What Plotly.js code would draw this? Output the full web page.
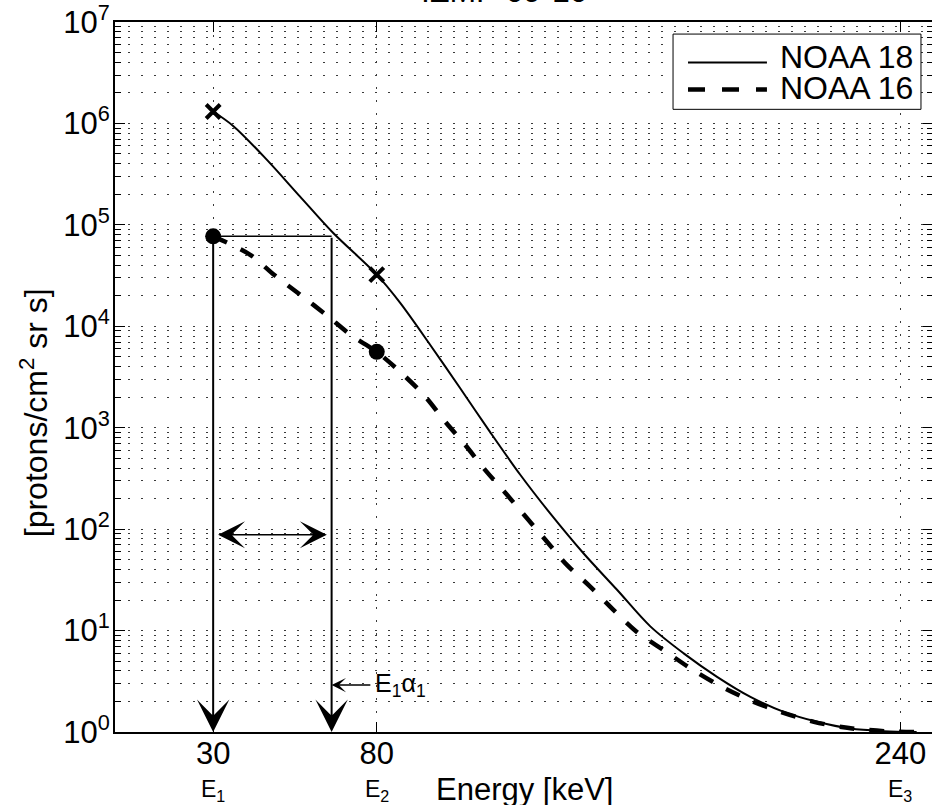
<!DOCTYPE html>
<html>
<head>
<meta charset="utf-8">
<script src="https://cdn.plot.ly/plotly-3.0.1.min.js"></script>
<style>
html, body { margin: 0; padding: 0; overflow: hidden; background: #fff; }
#chart { width: 934px; height: 805px; }
</style>
</head>
<body>
<div id="chart"></div>
<script>
// ---- data ----
const energy18 = [30, 36.2, 46.3, 56.5, 66.7, 80, 87.1, 96.3, 105.5, 114.6, 123.8, 133.0, 143.1, 153.5, 163.6, 173.8, 184, 194.2, 204.4, 214.6, 224.8, 235, 245];
const flux18 = [1.31e6, 9.4e5, 4.42e5, 1.91e5, 8.3e4, 3.23e4, 1.71e4, 6.58e3, 2.45e3, 910, 346, 143, 58.2, 25.1, 11.0, 5.96, 3.50, 2.22, 1.58, 1.26, 1.08, 1.02, 1.0];
const energy16 = [30, 41.2, 48.9, 57.0, 64.5, 72.3, 80, 88.1, 94.8, 100.9, 107, 113.1, 119.8, 133, 138.1, 145.3, 152.4, 159.5, 167.7, 175.9, 184.5, 194, 203.4, 213.6, 223.8, 235, 245];
const flux16 = [7.7e4, 5.1e4, 3.16e4, 2.0e4, 1.30e4, 8.1e3, 5.6e3, 3.33e3, 2.03e3, 1.15e3, 678, 384, 218, 69, 44.4, 27.0, 15.9, 9.7, 6.4, 4.24, 2.90, 2.06, 1.58, 1.26, 1.10, 1.02, 1.0];
const markerEnergy = [30, 80];
const markerFlux18 = [1.31e6, 3.23e4];
const markerFlux16 = [7.7e4, 5.6e3];
const tickEnergy = [30, 80, 240];
const tickEnergyText = ['30', '80', '240'];
const tickEnergyNames = ['E<sub>1</sub>', 'E<sub>2</sub>', 'E<sub>3</sub>'];
const fluxTicks = [1, 10, 100, 1e3, 1e4, 1e5, 1e6, 1e7];
const fluxTickText = ['10<sup>0</sup>', '10<sup>1</sup>', '10<sup>2</sup>', '10<sup>3</sup>', '10<sup>4</sup>', '10<sup>5</sup>', '10<sup>6</sup>', '10<sup>7</sup>'];
const seriesNames = ['NOAA 18', 'NOAA 16'];
const E1 = 30;
const E1alpha1 = 66.2;
const refFlux = 7.7e4;          // NOAA 16 flux at E1
const spanFlux = 88;            // level of the double arrow
const spanLeft = 31.5, spanRight = 65.2;
const labelFlux = 2.9;          // level of the E1·alpha1 pointer
const labelFrom = 78.5;
const chartTitle = 'IZMP 09-10';

// ---- styling ----
const FONT = 'Liberation Sans, Arial, sans-serif';
const minorVals = [];
for (let d = 0; d < 7; d++) for (let k = 2; k <= 9; k++) minorVals.push(k * Math.pow(10, d));
const gridDash = '2px,11px';
const gridColor = '#3a3a3a';

const traces = [
  { x: energy18, y: flux18, mode: 'lines', line: { color: '#000', width: 2, shape: 'spline', smoothing: 0.9 }, showlegend: false, hoverinfo: 'skip' },
  { x: energy16, y: flux16, mode: 'lines', line: { color: '#000', width: 4.5, dash: '15px,15px', shape: 'spline', smoothing: 0.9 }, showlegend: false, hoverinfo: 'skip' },
  { x: markerEnergy, y: markerFlux18, mode: 'markers', marker: { symbol: 'x-thin-open', size: 14, color: '#000', line: { color: '#000', width: 4 } }, showlegend: false, hoverinfo: 'skip' },
  { x: markerEnergy, y: markerFlux16, mode: 'markers', marker: { symbol: 'circle', size: 16, color: '#000' }, showlegend: false, hoverinfo: 'skip' },
  { x: [E1, E1alpha1], y: [refFlux, refFlux], mode: 'lines', line: { color: '#000', width: 1.5 }, showlegend: false, hoverinfo: 'skip' }
];

const L = Math.log10;
const annotations = [
  { x: E1, y: 0, ax: E1, ay: L(refFlux), xref: 'x', yref: 'y', axref: 'x', ayref: 'y', text: '', showarrow: true, arrowhead: 3, arrowsize: 2.7, arrowwidth: 2, arrowcolor: '#000', standoff: 0 },
  { x: E1alpha1, y: 0, ax: E1alpha1, ay: L(refFlux), xref: 'x', yref: 'y', axref: 'x', ayref: 'y', text: '', showarrow: true, arrowhead: 3, arrowsize: 2.7, arrowwidth: 2, arrowcolor: '#000', standoff: 0 },
  { x: spanLeft, y: L(spanFlux), ax: spanRight, ay: L(spanFlux), xref: 'x', yref: 'y', axref: 'x', ayref: 'y', text: '', showarrow: true, arrowside: 'end+start', arrowhead: 3, startarrowhead: 3, arrowsize: 3.0, startarrowsize: 3.0, arrowwidth: 1.5, arrowcolor: '#000', standoff: 0, startstandoff: 0 },
  { x: E1alpha1, y: L(labelFlux), ax: labelFrom, ay: L(labelFlux), xref: 'x', yref: 'y', axref: 'x', ayref: 'y', text: '', showarrow: true, arrowhead: 3, arrowsize: 1.6, arrowwidth: 1.5, arrowcolor: '#000', standoff: 0 },
  { x: labelFrom + 0.5, y: L(labelFlux), xref: 'x', yref: 'y', text: 'E<sub>1</sub>α<sub>1</sub>', showarrow: false, xanchor: 'left', yanchor: 'middle', font: { family: FONT, size: 25, color: '#000' } },
  // x-axis title
  { x: 0.501, y: -0.081, xref: 'paper', yref: 'paper', text: 'Energy [keV]', showarrow: false, xanchor: 'center', yanchor: 'middle', font: { family: FONT, size: 31, color: '#000' } },
  // y-axis title
  { x: -0.099, y: 0.449, xref: 'paper', yref: 'paper', text: '[protons/cm<sup>2</sup> sr s]', textangle: -90, showarrow: false, xanchor: 'center', yanchor: 'middle', font: { family: FONT, size: 32, color: '#000' } },
  // title (cut by the top edge as in the reference)
  { x: 0.476, y: 1.016, xref: 'paper', yref: 'paper', text: chartTitle, showarrow: false, xanchor: 'center', yanchor: 'bottom', font: { family: FONT, size: 32, color: '#000' } },
  // legend texts
  { x: 0.8105, y: 0.951, xref: 'paper', yref: 'paper', text: seriesNames[0], showarrow: false, xanchor: 'left', yanchor: 'middle', font: { family: FONT, size: 32, color: '#000' } },
  { x: 0.8105, y: 0.907, xref: 'paper', yref: 'paper', text: seriesNames[1], showarrow: false, xanchor: 'left', yanchor: 'middle', font: { family: FONT, size: 32, color: '#000' } }
];
tickEnergy.forEach((e, i) => {
  annotations.push({ x: e, y: -0.083, xref: 'x', yref: 'paper', text: tickEnergyNames[i], showarrow: false, xanchor: 'center', yanchor: 'middle', font: { family: FONT, size: 23, color: '#000' } });
});

const shapes = [
  { type: 'rect', xref: 'paper', yref: 'paper', x0: 0.6822, x1: 0.9853, y0: 0.877, y1: 0.983, line: { color: '#000', width: 1 }, fillcolor: '#fff', layer: 'above' },
  { type: 'line', xref: 'paper', yref: 'paper', x0: 0.7005, x1: 0.797, y0: 0.943, y1: 0.943, line: { color: '#000', width: 2 }, layer: 'above' },
  { type: 'line', xref: 'paper', yref: 'paper', x0: 0.7005, x1: 0.797, y0: 0.905, y1: 0.905, line: { color: '#000', width: 4.5, dash: '17px,17px' }, layer: 'above' }
];

const layout = {
  width: 934, height: 805,
  margin: { l: 115, r: 1, t: 22, b: 73 },
  paper_bgcolor: '#fff', plot_bgcolor: '#fff',
  font: { family: FONT, size: 32, color: '#000' },
  showlegend: false,
  xaxis: {
    range: [0, 250], tickmode: 'array', tickvals: tickEnergy, ticktext: tickEnergyText,
    ticks: 'inside', ticklen: 10, tickwidth: 1, tickcolor: '#000', ticklabelstandoff: -7, ticklabeloverflow: 'allow',
    showline: true, linecolor: '#000', linewidth: 2, mirror: 'allticks',
    showgrid: true, gridcolor: gridColor, gridwidth: 1, griddash: gridDash,
    zeroline: false, tickfont: { family: FONT, size: 31, color: '#000' }
  },
  yaxis: {
    type: 'log', range: [0, 7], tickmode: 'array', tickvals: fluxTicks, ticktext: fluxTickText,
    ticks: 'inside', ticklen: 10, tickwidth: 1, tickcolor: '#000', ticklabelstandoff: -3, ticklabeloverflow: 'allow',
    showline: true, linecolor: '#000', linewidth: 2, mirror: 'allticks',
    showgrid: true, gridcolor: gridColor, gridwidth: 1, griddash: gridDash,
    minor: { tickmode: 'array', tickvals: minorVals, ticks: 'inside', ticklen: 6, tickcolor: '#000', showgrid: true, gridcolor: gridColor, gridwidth: 1, griddash: gridDash },
    zeroline: false, tickfont: { family: FONT, size: 31, color: '#000' }
  },
  annotations: annotations,
  shapes: shapes
};

Plotly.newPlot('chart', traces, layout, { staticPlot: true, displayModeBar: false });
</script>
</body>
</html>
